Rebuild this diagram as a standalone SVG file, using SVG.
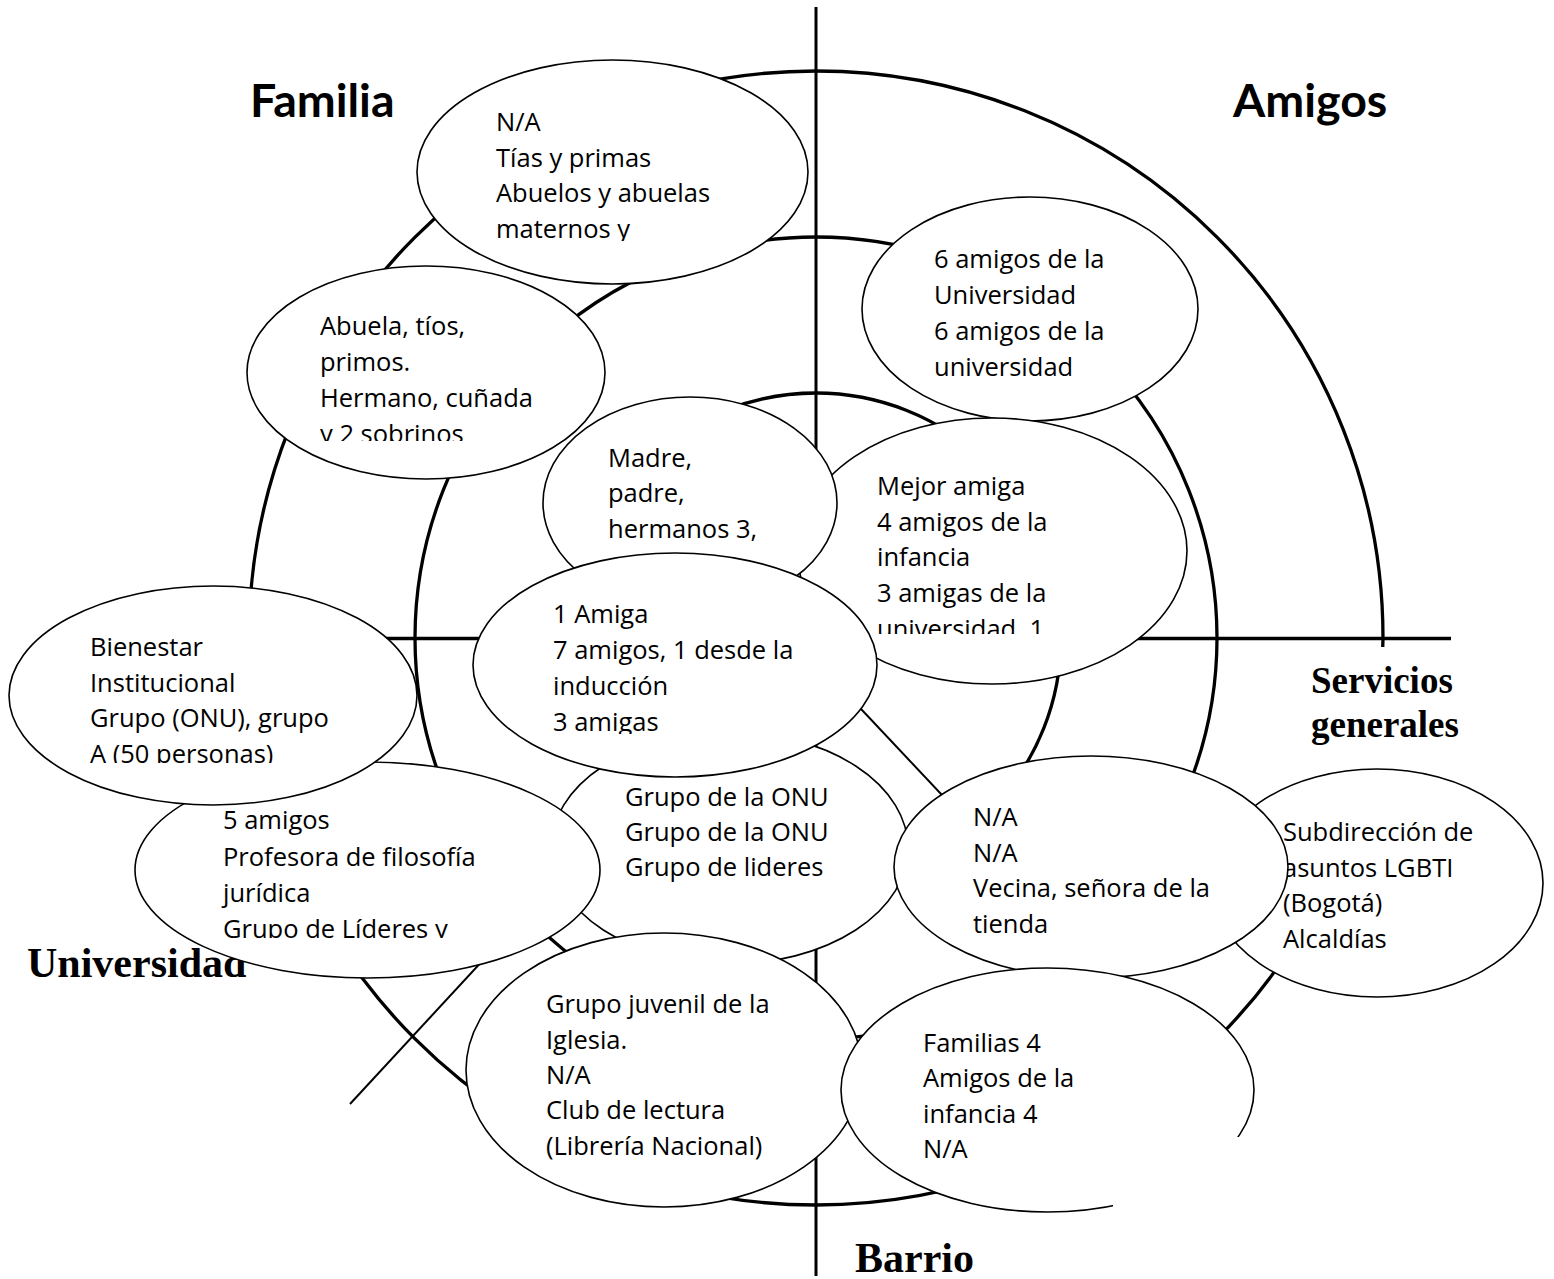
<svg xmlns="http://www.w3.org/2000/svg" width="1554" height="1279" viewBox="0 0 1554 1279">
<style>
.circ{fill:none;stroke:#000;stroke-width:3.3}
.axis{stroke:#000;stroke-width:3;fill:none}
.diag{stroke:#000;stroke-width:2;fill:none}
.node ellipse{fill:#fff;stroke:#000;stroke-width:1.6}
.txt{font-family:"Open Sans","Noto Sans",sans-serif;font-size:25.5px;fill:#000}
.head{font-family:Lato,"Open Sans",sans-serif;font-weight:bold;font-size:46.5px;fill:#000}
.serif{font-family:"Liberation Serif","Times New Roman",serif;font-weight:bold;font-size:42px;fill:#000}
</style>
<defs>
<clipPath id="cTias"><rect x="0" y="0" width="1554" height="241"/></clipPath>
<clipPath id="cAbuela"><rect x="0" y="0" width="1554" height="441"/></clipPath>
<clipPath id="cMejor"><rect x="0" y="0" width="1554" height="634"/></clipPath>
<clipPath id="cAmiga"><rect x="0" y="0" width="1554" height="734"/></clipPath>
<clipPath id="cBien"><rect x="0" y="0" width="1554" height="763"/></clipPath>
<clipPath id="c5am"><rect x="0" y="0" width="1554" height="938"/></clipPath>
<clipPath id="cFam"><path d="M0,0 H1554 V1137 H1113 V1279 H0 Z"/></clipPath>
</defs>
<rect x="0" y="0" width="1554" height="1279" fill="#fff"/>

<g id="connectors">
<circle class="circ" cx="816" cy="638" r="567"/>
<circle class="circ" cx="816" cy="638" r="401"/>
<circle class="circ" cx="816" cy="638" r="245"/>
<line class="axis" x1="816" y1="7" x2="816" y2="1276"/>
<line class="axis" x1="300" y1="638.5" x2="1451" y2="638.5" style="stroke-width:3.5"/>
<line class="diag" x1="830" y1="676" x2="1180" y2="1048"/>
<line class="diag" x1="350" y1="1104" x2="560" y2="877"/>
</g>

<g id="labels">
<text class="head" x="250" y="117">Familia</text>
<text class="head" x="1233" y="117">Amigos</text>
<rect x="1300" y="647" width="170" height="125" fill="#fff"/>
<text class="serif" style="font-size:37px"><tspan x="1311" y="693">Servicios</tspan><tspan x="1311" y="737">generales</tspan></text>
<text class="serif" x="27" y="977">Universidad</text>
<text class="serif" x="855" y="1272">Barrio</text>
</g>

<g id="node-tias" class="node">
<ellipse cx="612.5" cy="172" rx="195.5" ry="112"/>
<text class="txt" clip-path="url(#cTias)"><tspan x="496" y="131">N/A</tspan><tspan x="496" y="166.7">Tías y primas</tspan><tspan x="496" y="202.3">Abuelos y abuelas</tspan><tspan x="496" y="238">maternos y</tspan></text>
</g>

<g id="node-abuela" class="node">
<ellipse cx="426" cy="372.5" rx="179" ry="106.5"/>
<text class="txt" clip-path="url(#cAbuela)"><tspan x="320" y="335">Abuela, tíos,</tspan><tspan x="320" y="371">primos.</tspan><tspan x="320" y="407">Hermano, cuñada</tspan><tspan x="320" y="443">y 2 sobrinos</tspan></text>
</g>

<g id="node-6amigos" class="node">
<ellipse cx="1030" cy="309" rx="168" ry="112"/>
<text class="txt"><tspan x="934" y="268">6 amigos de la</tspan><tspan x="934" y="304">Universidad</tspan><tspan x="934" y="340">6 amigos de la</tspan><tspan x="934" y="376">universidad</tspan></text>
</g>

<g id="node-mejor" class="node">
<ellipse cx="992" cy="551" rx="195" ry="133"/>
<text class="txt" clip-path="url(#cMejor)"><tspan x="877" y="495">Mejor amiga</tspan><tspan x="877" y="531">4 amigos de la</tspan><tspan x="877" y="566">infancia</tspan><tspan x="877" y="602">3 amigas de la</tspan><tspan x="877" y="638">universidad, 1</tspan></text>
</g>

<g id="node-madre" class="node">
<ellipse cx="690" cy="503" rx="147" ry="106"/>
<text class="txt"><tspan x="608" y="467">Madre,</tspan><tspan x="608" y="502">padre,</tspan><tspan x="608" y="538">hermanos 3,</tspan></text>
</g>

<g id="node-onu" class="node">
<ellipse cx="729.5" cy="848" rx="178.5" ry="116"/>
<text class="txt"><tspan x="625" y="806">Grupo de la ONU</tspan><tspan x="625" y="841">Grupo de la ONU</tspan><tspan x="625" y="876">Grupo de lideres</tspan></text>
</g>

<g id="node-1amiga" class="node">
<ellipse cx="675" cy="665" rx="202" ry="112"/>
<text class="txt" clip-path="url(#cAmiga)"><tspan x="553" y="623">1 Amiga</tspan><tspan x="553" y="659">7 amigos, 1 desde la</tspan><tspan x="553" y="695">inducción</tspan><tspan x="553" y="731">3 amigas</tspan></text>
</g>

<g id="node-5amigos" class="node">
<ellipse cx="367.5" cy="870" rx="232.5" ry="108"/>
<text class="txt" clip-path="url(#c5am)"><tspan x="223" y="829">5 amigos</tspan><tspan x="223" y="866">Profesora de filosofía</tspan><tspan x="223" y="902">jurídica</tspan><tspan x="223" y="938">Grupo de Líderes y</tspan></text>
</g>

<g id="node-bienestar" class="node">
<ellipse cx="213" cy="695.5" rx="204" ry="109.5"/>
<text class="txt" clip-path="url(#cBien)"><tspan x="90" y="656">Bienestar</tspan><tspan x="90" y="692">Institucional</tspan><tspan x="90" y="727">Grupo (ONU), grupo</tspan><tspan x="90" y="763">A (50 personas)</tspan></text>
</g>

<g id="node-subdireccion" class="node">
<ellipse cx="1377" cy="883" rx="166" ry="114"/>
<text class="txt"><tspan x="1283" y="841">Subdirección de</tspan><tspan x="1283" y="877">asuntos LGBTI</tspan><tspan x="1283" y="912">(Bogotá)</tspan><tspan x="1283" y="948">Alcaldías</tspan></text>
</g>

<g id="node-na" class="node">
<ellipse cx="1091" cy="867" rx="197" ry="111"/>
<text class="txt"><tspan x="973" y="826">N/A</tspan><tspan x="973" y="862">N/A</tspan><tspan x="973" y="897">Vecina, señora de la</tspan><tspan x="973" y="933">tienda</tspan></text>
</g>

<g id="node-juvenil" class="node">
<ellipse cx="664" cy="1070" rx="198" ry="137"/>
<text class="txt"><tspan x="546" y="1013">Grupo juvenil de la</tspan><tspan x="546" y="1049">Iglesia.</tspan><tspan x="546" y="1084">N/A</tspan><tspan x="546" y="1119">Club de lectura</tspan><tspan x="546" y="1155">(Librería Nacional)</tspan></text>
</g>

<g id="node-familias" class="node">
<ellipse cx="1047.5" cy="1090" rx="206.5" ry="122" clip-path="url(#cFam)"/>
<text class="txt"><tspan x="923" y="1052">Familias 4</tspan><tspan x="923" y="1087">Amigos de la</tspan><tspan x="923" y="1123">infancia 4</tspan><tspan x="923" y="1158">N/A</tspan></text>
</g>
</svg>
